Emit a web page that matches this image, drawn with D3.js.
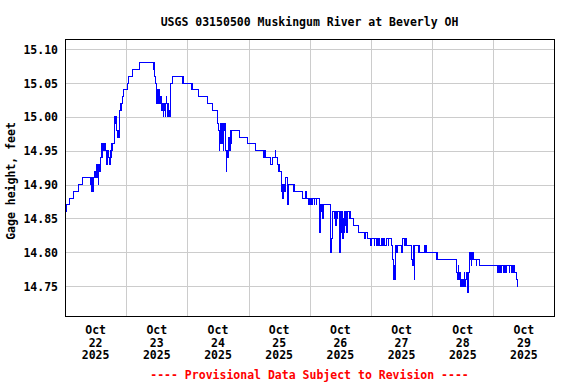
<!DOCTYPE html>
<html>
<head>
<meta charset="utf-8">
<script src="https://cdn.jsdelivr.net/npm/d3@7"></script>
<style>
  body { margin: 0; background: #fff; }
  text { font-family: "DejaVu Sans Mono", monospace; font-weight: bold; font-size: 11.5px; fill: #000; }
</style>
</head>
<body>
<svg class="hydrographe" width="576" height="384"></svg>
<script>

// Titre et textes
let titre = "USGS 03150500 Muskingum River at Beverly OH";
let titreAxeY = "Gage height, feet";
let mention = "---- Provisional Data Subject to Revision ----";

// Graduations
let jours = ["22", "23", "24", "25", "26", "27", "28", "29"];
let mois = "Oct";
let annee = "2025";
let gradY = [14.75, 14.80, 14.85, 14.90, 14.95, 15.00, 15.05, 15.10];

// Lectures : [heures depuis le 22 oct 00:00, hauteur en pieds]
let lectures = [
  [0, 14.86], [0.5, 14.87], [1.7, 14.88], [3.4, 14.89], [5.1, 14.90], [7.0, 14.91],
  [10.0, 14.90], [10.25, 14.91], [10.5, 14.89], [10.75, 14.91], [11.0, 14.89], [11.25, 14.91],
  [11.5, 14.92], [11.75, 14.91], [12.0, 14.92], [12.25, 14.93], [12.5, 14.91], [12.75, 14.93],
  [13.0, 14.90], [13.25, 14.93], [13.5, 14.92], [13.75, 14.93], [14.0, 14.94], [14.25, 14.96],
  [14.5, 14.94], [14.75, 14.96], [15.0, 14.95], [15.25, 14.96], [15.5, 14.95], [15.75, 14.96],
  [16.0, 14.95], [16.25, 14.93], [16.5, 14.95], [16.75, 14.94], [17.0, 14.95], [17.25, 14.94],
  [17.5, 14.93], [17.75, 14.95], [18.0, 14.94], [18.25, 14.96], [18.5, 14.95], [18.75, 14.96],
  [19.5, 15.00], [19.75, 14.99], [20.0, 15.00], [20.25, 14.98], [20.5, 14.97], [20.75, 14.98],
  [21.0, 14.97], [21.25, 14.99], [21.5, 15.01], [21.75, 15.02], [22.0, 15.01], [22.25, 15.02],
  [22.5, 15.03], [23.0, 15.04], [24.5, 15.05], [25.0, 15.06], [26.6, 15.07], [29.1, 15.08],
  [34.75, 15.07], [35.0, 15.08], [35.25, 15.06], [35.5, 15.05], [35.75, 15.04], [36.0, 15.02],
  [36.25, 15.04], [36.5, 15.02], [36.75, 15.04], [37.0, 15.03], [37.25, 15.02], [37.5, 15.03],
  [37.75, 15.02], [38.0, 15.01], [38.25, 15.02], [38.5, 15.00], [38.75, 15.02], [39.0, 15.01],
  [39.25, 15.00], [39.5, 15.02], [39.75, 15.03], [40.0, 15.02], [40.25, 15.00], [40.5, 15.02],
  [40.75, 15.01], [41.0, 15.00], [41.25, 15.04], [41.5, 15.05], [42.0, 15.06],
  [46.0, 15.05], [46.25, 15.06], [46.5, 15.05], [49.5, 15.04], [49.75, 15.05], [50.0, 15.04],
  [52.5, 15.03], [55.7, 15.02], [58.0, 15.01], [60.0, 14.99], [60.25, 14.98], [60.5, 14.95],
  [60.75, 14.96], [61.0, 14.99], [61.5, 14.96], [61.75, 14.99], [62.0, 14.95], [62.25, 14.98],
  [62.5, 14.99], [63.0, 14.95], [63.25, 14.92], [63.5, 14.94], [63.75, 14.95], [64.0, 14.94],
  [64.25, 14.97], [64.5, 14.95], [64.75, 14.98], [65.0, 14.96], [65.5, 14.98],
  [68.4, 14.97], [71.6, 14.96], [74.9, 14.95], [78.0, 14.94], [78.25, 14.95], [78.75, 14.94],
  [80.7, 14.93], [81.25, 14.94], [82.5, 14.95], [82.75, 14.94], [83.25, 14.93], [83.75, 14.92],
  [84.0, 14.93], [84.25, 14.92], [84.75, 14.90], [85.0, 14.89], [85.25, 14.90], [85.5, 14.88],
  [85.75, 14.90], [86.0, 14.89], [86.5, 14.91], [87.2, 14.87], [87.5, 14.90], [89.5, 14.89],
  [89.75, 14.90], [90.0, 14.89], [93.25, 14.88], [94.25, 14.89], [94.75, 14.88],
  [95.5, 14.87], [95.75, 14.88], [96.0, 14.87], [96.25, 14.88], [96.75, 14.87], [97.0, 14.88],
  [97.75, 14.87], [98.0, 14.88], [98.5, 14.87], [98.75, 14.88], [99.75, 14.85], [100.0, 14.83],
  [100.25, 14.87], [100.5, 14.86], [100.75, 14.87], [101.0, 14.85], [101.25, 14.87],
  [104.0, 14.85], [104.25, 14.80], [104.5, 14.82], [104.75, 14.86], [105.75, 14.85], [106.0, 14.86],
  [106.25, 14.84], [106.5, 14.86], [106.75, 14.85], [107.0, 14.86], [107.75, 14.80], [108.0, 14.82],
  [108.25, 14.86], [108.5, 14.83], [108.75, 14.86], [109.0, 14.82], [109.25, 14.85], [109.5, 14.83],
  [109.75, 14.86], [110.0, 14.84], [110.25, 14.86], [110.5, 14.83], [110.75, 14.86],
  [111.5, 14.85], [111.75, 14.86], [112.0, 14.85], [113.25, 14.84], [115.0, 14.83],
  [117.5, 14.82], [117.75, 14.83], [118.5, 14.82], [120.0, 14.81], [120.25, 14.82],
  [121.25, 14.81], [121.5, 14.82], [122.0, 14.81], [122.25, 14.82], [122.75, 14.81], [123.0, 14.82],
  [123.5, 14.81], [124.0, 14.82], [124.5, 14.81], [125.0, 14.82], [125.5, 14.81], [126.0, 14.82],
  [126.75, 14.81], [127.0, 14.82], [128.0, 14.81], [128.5, 14.79], [128.75, 14.76], [129.0, 14.78],
  [129.25, 14.76], [129.5, 14.80], [129.75, 14.81], [130.0, 14.80], [130.25, 14.81],
  [132.0, 14.80], [132.25, 14.81], [132.5, 14.82], [133.25, 14.81], [133.5, 14.82], [133.75, 14.81],
  [136.0, 14.79], [136.25, 14.78], [136.5, 14.81], [136.75, 14.79], [137.0, 14.76], [137.25, 14.81],
  [138.5, 14.80], [138.75, 14.81], [139.0, 14.80], [141.0, 14.81], [141.25, 14.80], [141.5, 14.81],
  [141.75, 14.80], [145.75, 14.79], [146.0, 14.80], [146.25, 14.79],
  [153.5, 14.78], [153.75, 14.77], [154.0, 14.76], [154.25, 14.78], [154.5, 14.77], [154.75, 14.76],
  [155.0, 14.77], [155.25, 14.75], [155.5, 14.76], [155.75, 14.75], [156.0, 14.76], [156.25, 14.75],
  [156.5, 14.77], [156.75, 14.75], [157.0, 14.76], [157.5, 14.77], [158.0, 14.74], [158.25, 14.77],
  [158.5, 14.80], [158.75, 14.79], [159.0, 14.80], [159.25, 14.78], [159.5, 14.80], [159.75, 14.79],
  [160.0, 14.80], [160.25, 14.79], [161.25, 14.78], [161.5, 14.79], [162.75, 14.78],
  [169.75, 14.77], [170.0, 14.78], [170.25, 14.77], [170.5, 14.78], [171.0, 14.77], [171.25, 14.78],
  [172.0, 14.77], [172.25, 14.78], [172.75, 14.77], [173.0, 14.78], [174.25, 14.77], [174.5, 14.78],
  [175.25, 14.77], [175.5, 14.78], [175.75, 14.77], [176.0, 14.78], [176.5, 14.77], [177.0, 14.76],
  [177.5, 14.75], [177.75, 14.75]
];

// Dimensions de la zone de tracé
let gauche = 65, droite = 554, haut = 39, bas = 316;
let debut = new Date(2025, 9, 22, 0, 0);
let heure = 3600 * 1000;

let svg = d3.select(".hydrographe");

let x = d3.scaleTime()
    .domain([debut, new Date(+debut + 191.8 * heure)])
    .range([gauche, droite]);

let y = d3.scaleLinear()
    .domain([14.706, 15.115])
    .range([bas, haut]);

let net = v => Math.round(v) + 0.5;

// Grille verticale (minuit de chaque jour)
let minuits = jours.slice(1).map((j, i) => new Date(+debut + (i + 1) * 24 * heure));
svg.append("g")
  .selectAll("line")
  .data(minuits)
  .enter()
  .append("line")
  .attr("x1", d => net(x(d)))
  .attr("x2", d => net(x(d)))
  .attr("y1", haut)
  .attr("y2", bas)
  .style("stroke", "#cccccc")
  .style("stroke-width", 1);

// Grille horizontale
svg.append("g")
  .selectAll("line")
  .data(gradY)
  .enter()
  .append("line")
  .attr("x1", gauche)
  .attr("x2", droite)
  .attr("y1", d => net(y(d)))
  .attr("y2", d => net(y(d)))
  .style("stroke", "#cccccc")
  .style("stroke-width", 1);

// Courbe de hauteur d'eau
let ligne = d3.line()
  .x(d => x(new Date(+debut + d[0] * heure)))
  .y(d => y(d[1]))
  .curve(d3.curveStepAfter);

svg.append("path")
  .datum(lectures)
  .attr("d", ligne)
  .style("fill", "none")
  .style("stroke", "#0000ff")
  .style("stroke-width", 1)
  .style("shape-rendering", "crispEdges");

// Cadre
svg.append("rect")
  .attr("x", gauche + 0.5)
  .attr("y", haut + 0.5)
  .attr("width", droite - gauche)
  .attr("height", bas - haut)
  .style("fill", "none")
  .style("stroke", "#000")
  .style("stroke-width", 1);

// Étiquettes axe Y
svg.append("g")
  .selectAll("text")
  .data(gradY)
  .enter()
  .append("text")
  .attr("x", 58)
  .attr("y", d => y(d) + 4.5)
  .attr("text-anchor", "end")
  .text(d => d3.format(".2f")(d));

// Étiquettes axe X (midi de chaque jour)
let etiquettesX = svg.append("g")
  .selectAll("text")
  .data(jours)
  .enter()
  .append("text")
  .attr("text-anchor", "middle")
  .attr("transform", (d, i) => `translate(${x(new Date(+debut + (i * 24 + 12) * heure))},0)`);

etiquettesX.append("tspan").attr("x", 0).attr("y", 334).text(mois);
etiquettesX.append("tspan").attr("x", 0).attr("y", 346.7).text(d => d);
etiquettesX.append("tspan").attr("x", 0).attr("y", 359.3).text(annee);

// Titre
svg.append("text")
  .attr("x", (gauche + droite) / 2)
  .attr("y", 26)
  .attr("text-anchor", "middle")
  .text(titre);

// Titre axe Y
svg.append("text")
  .attr("transform", `translate(15,181) rotate(-90)`)
  .attr("text-anchor", "middle")
  .text(titreAxeY);

// Mention provisoire
svg.append("text")
  .attr("x", (gauche + droite) / 2)
  .attr("y", 378.7)
  .attr("text-anchor", "middle")
  .style("fill", "#ff0000")
  .text(mention);

</script>
</body>
</html>
